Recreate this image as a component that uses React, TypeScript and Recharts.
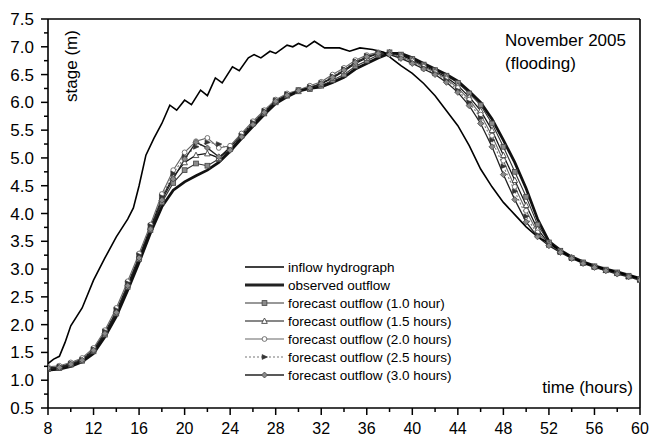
import { LineChart, Line, XAxis, YAxis, ReferenceLine } from 'recharts'

// time axis (hours) shared by observed and forecast series
const hours = [
  8, 9, 10, 11, 12, 13, 14, 15, 16, 17,
  18, 19, 20, 21, 22, 23, 24, 25, 26, 27,
  28, 29, 30, 31, 32, 33, 34, 35, 36, 37,
  38, 39, 40, 41, 42, 43, 44, 45, 46, 47,
  48, 49, 50, 51, 52, 53, 54, 55, 56, 57,
  58, 59, 60,
]

// inflow hydrograph has its own, finer time steps (the zigzag)
const inflowTime = [
  8, 8.5, 9, 9.5, 10, 11, 12, 13, 14, 15,
  15.5, 16, 16.6, 17.3, 18, 18.7, 19.3, 20, 20.6, 21.4,
  22, 22.7, 23.3, 24.2, 24.8, 25.6, 26.1, 26.7, 27.5, 28,
  29, 29.5, 30, 30.7, 31.4, 32.3, 33.6, 34.5, 35.4, 36.5,
  37.5, 38, 39, 40, 41, 42, 43, 44, 45, 46,
  47, 48, 49, 50, 51, 52, 53, 54, 55, 56,
  57, 58, 59, 60,
]
const inflowStage = [
  1.3, 1.38, 1.43, 1.68, 1.98, 2.3, 2.8, 3.2, 3.58, 3.9,
  4.1, 4.5, 5.05, 5.35, 5.62, 5.95, 5.86, 6.04, 5.96, 6.22,
  6.12, 6.44, 6.35, 6.64, 6.57, 6.8, 6.86, 6.8, 6.92, 6.88,
  7.03, 7.0, 7.06, 7.0, 7.1, 6.98, 6.98, 6.92, 6.98, 6.95,
  6.9, 6.82, 6.66, 6.52, 6.34, 6.12, 5.85, 5.58, 5.22, 4.8,
  4.48, 4.2, 3.98, 3.76, 3.58, 3.47, 3.33, 3.21, 3.12, 3.05,
  3.0, 2.94, 2.89, 2.83,
]

const observed = [
  1.18, 1.2, 1.25, 1.33, 1.48, 1.78, 2.15, 2.62, 3.12, 3.65,
  4.12, 4.42, 4.57, 4.68, 4.78, 4.92, 5.12, 5.35, 5.57, 5.78,
  5.98, 6.1, 6.2, 6.25, 6.28, 6.36, 6.45, 6.6, 6.7, 6.8,
  6.88, 6.88, 6.8, 6.7, 6.6, 6.5, 6.38, 6.2, 6.0, 5.7,
  5.32, 4.92, 4.45, 3.9, 3.5, 3.34, 3.22, 3.13, 3.06, 3.0,
  2.95, 2.89, 2.83,
]
const fc10 = [
  1.2, 1.22, 1.28, 1.35, 1.52, 1.82, 2.2, 2.68, 3.18, 3.7,
  4.2, 4.55, 4.78, 4.9, 4.86, 4.98, 5.16, 5.4, 5.62, 5.8,
  6.0, 6.12, 6.22, 6.24, 6.3, 6.4, 6.5, 6.65, 6.75, 6.85,
  6.9, 6.86, 6.78, 6.68, 6.58, 6.48, 6.35, 6.16, 5.95, 5.62,
  5.2, 4.75, 4.3, 3.8, 3.48, 3.33, 3.2, 3.12, 3.05, 2.99,
  2.94, 2.88, 2.82,
]
const fc15 = [
  1.22, 1.24, 1.3, 1.38, 1.55, 1.86, 2.24, 2.72, 3.22, 3.75,
  4.28, 4.66, 4.92, 5.05, 5.08, 5.0, 5.2, 5.42, 5.63, 5.84,
  6.03, 6.14, 6.2, 6.27, 6.33, 6.44, 6.56, 6.7, 6.8, 6.88,
  6.9, 6.85, 6.76, 6.66, 6.56, 6.45, 6.3, 6.1, 5.85, 5.5,
  5.05, 4.6, 4.15, 3.72, 3.46, 3.32, 3.21, 3.11, 3.04, 2.98,
  2.93, 2.87, 2.81,
]
const fc20 = [
  1.24, 1.26, 1.32, 1.4, 1.58, 1.9, 2.3, 2.78, 3.28, 3.8,
  4.35, 4.78, 5.1, 5.3, 5.36, 5.18, 5.22, 5.44, 5.66, 5.86,
  6.05, 6.16, 6.22, 6.3, 6.37, 6.5, 6.62, 6.76, 6.85, 6.9,
  6.88, 6.82, 6.74, 6.64, 6.54, 6.42, 6.26, 6.05, 5.78, 5.4,
  4.95, 4.48, 4.05, 3.66, 3.44, 3.31, 3.2, 3.11, 3.04, 2.98,
  2.92, 2.87, 2.81,
]
const fc25 = [
  1.2, 1.25, 1.3, 1.37, 1.56, 1.88, 2.27, 2.75, 3.25, 3.78,
  4.3, 4.72, 5.02, 5.2, 5.28, 5.25, 5.15, 5.4, 5.64, 5.85,
  6.04, 6.15, 6.2, 6.28, 6.35, 6.47, 6.6, 6.74, 6.84, 6.9,
  6.87, 6.8, 6.72, 6.62, 6.52, 6.4, 6.22, 6.0, 5.72, 5.32,
  4.85, 4.4, 3.95, 3.62, 3.43, 3.3, 3.2, 3.11, 3.04, 2.98,
  2.92, 2.86, 2.8,
]
const fc30 = [
  1.22, 1.23, 1.29, 1.36, 1.54, 1.84, 2.22, 2.7, 3.2, 3.72,
  4.24, 4.62, 4.98, 5.28, 5.18, 5.02, 5.14, 5.38, 5.6, 5.82,
  6.02, 6.13, 6.21, 6.26, 6.34, 6.45, 6.58, 6.72, 6.82, 6.88,
  6.86, 6.79, 6.7, 6.6, 6.5, 6.36, 6.18, 5.94, 5.62, 5.2,
  4.7, 4.25, 3.85, 3.58, 3.42, 3.3, 3.19, 3.1, 3.03, 2.97,
  2.91, 2.86, 2.8,
]

const xTicks = [8, 10, 12, 14, 16, 18, 20, 22, 24, 26, 28, 30, 32, 34, 36, 38, 40, 42, 44, 46, 48, 50, 52, 54, 56, 58, 60]
const yTicks = [0.5, 0.75, 1, 1.25, 1.5, 1.75, 2, 2.25, 2.5, 2.75, 3, 3.25, 3.5, 3.75, 4, 4.25, 4.5, 4.75, 5, 5.25, 5.5, 5.75, 6, 6.25, 6.5, 6.75, 7, 7.25, 7.5]

const FONT = '"Liberation Sans", Arial, sans-serif'

const toRows = (ts: number[], vs: number[]) => ts.map((t, i) => ({ t, v: vs[i] }))

type MarkerKind = 'square' | 'triangle' | 'circle' | 'arrow' | 'diamond'

const Marker = ({ kind, cx, cy }: { kind: MarkerKind; cx: number; cy: number }) => {
  const s = 2.4
  if (kind === 'square')
    return <rect x={cx - s} y={cy - s} width={s * 2} height={s * 2} fill="#8a8a8a" stroke="#444" strokeWidth={0.8} />
  if (kind === 'triangle')
    return (
      <polygon
        points={`${cx},${cy - s - 0.6} ${cx - s - 0.4},${cy + s} ${cx + s + 0.4},${cy + s}`}
        fill="#fff"
        stroke="#444"
        strokeWidth={0.9}
      />
    )
  if (kind === 'circle') return <circle cx={cx} cy={cy} r={s} fill="#fff" stroke="#666" strokeWidth={0.9} />
  if (kind === 'arrow')
    return (
      <polygon
        points={`${cx + s + 0.6},${cy} ${cx - s},${cy - s} ${cx - s},${cy + s}`}
        fill="#333"
        stroke="#333"
        strokeWidth={0.6}
      />
    )
  return (
    <polygon
      points={`${cx},${cy - s - 0.6} ${cx + s + 0.6},${cy} ${cx},${cy + s + 0.6} ${cx - s - 0.6},${cy}`}
      fill="#8a8a8a"
      stroke="#444"
      strokeWidth={0.8}
    />
  )
}

const dotFor = (kind: MarkerKind) => (props: any) => {
  const { cx, cy, index } = props
  if (cx == null || cy == null) return <g key={index} />
  return <Marker key={index} kind={kind} cx={cx} cy={cy} />
}

const forecasts = [
  { name: 'forecast outflow (1.0 hour)', values: fc10, stroke: '#333', width: 1.1, dash: undefined, kind: 'square' as MarkerKind },
  { name: 'forecast outflow (1.5 hours)', values: fc15, stroke: '#111', width: 1.2, dash: undefined, kind: 'triangle' as MarkerKind },
  { name: 'forecast outflow (2.0 hours)', values: fc20, stroke: '#666', width: 1.1, dash: undefined, kind: 'circle' as MarkerKind },
  { name: 'forecast outflow (2.5 hours)', values: fc25, stroke: '#777', width: 1.1, dash: '2 2', kind: 'arrow' as MarkerKind },
  { name: 'forecast outflow (3.0 hours)', values: fc30, stroke: '#222', width: 1.3, dash: undefined, kind: 'diamond' as MarkerKind },
]

const XTick = (props: any) => {
  const { x, y, payload } = props
  const v = payload.value
  const major = v % 4 === 0
  return (
    <g>
      <line x1={x} x2={x} y1={y} y2={y + (major ? 7 : 4)} stroke="#000" strokeWidth={1.5} />
      {major && (
        <text x={x} y={y + 26} textAnchor="middle" fontSize={16} fontFamily={FONT} fill="#000">
          {v}
        </text>
      )}
    </g>
  )
}

const YTick = (props: any) => {
  const { x, y, payload } = props
  const v = payload.value
  const major = Math.abs(v * 2 - Math.round(v * 2)) < 1e-6
  return (
    <g>
      <line x1={x} x2={x - (major ? 7 : 4)} y1={y} y2={y} stroke="#000" strokeWidth={1.5} />
      {major && (
        <text x={x - 14} y={y + 6} textAnchor="end" fontSize={17} fontFamily={FONT} fill="#000">
          {v.toFixed(1)}
        </text>
      )}
    </g>
  )
}

const legendRows = [
  { name: 'inflow hydrograph', stroke: '#000', width: 1.6, dash: undefined as string | undefined, kind: null as MarkerKind | null },
  { name: 'observed outflow', stroke: '#222', width: 2.8, dash: undefined, kind: null },
  ...forecasts.map((f) => ({ name: f.name, stroke: f.stroke, width: f.width, dash: f.dash, kind: f.kind as MarkerKind | null })),
]

export default function App() {
  return (
    <div style={{ position: 'absolute', left: 0, top: 0, width: 651, height: 440, background: '#fff' }}>
      <LineChart width={651} height={440} margin={{ top: 19, right: 11, bottom: 0, left: 0 }}>
        <XAxis
          dataKey="t"
          type="number"
          domain={[8, 60]}
          ticks={xTicks}
          interval={0}
          allowDataOverflow
          height={32}
          tickSize={0}
          tickMargin={0}
          tickLine={false}
          axisLine={{ stroke: '#000', strokeWidth: 1.6 }}
          tick={<XTick />}
        />
        <YAxis
          type="number"
          domain={[0.5, 7.5]}
          ticks={yTicks}
          interval={0}
          allowDataOverflow
          width={48}
          tickSize={0}
          tickMargin={0}
          tickLine={false}
          axisLine={{ stroke: '#000', strokeWidth: 1.6 }}
          tick={<YTick />}
        />
        <ReferenceLine y={7.5} stroke="#000" strokeWidth={1.6} />
        <ReferenceLine x={60} stroke="#000" strokeWidth={1.6} />
        {forecasts.map((f) => (
          <Line
            key={f.name}
            data={toRows(hours, f.values)}
            dataKey="v"
            type="linear"
            stroke={f.stroke}
            strokeWidth={f.width}
            strokeDasharray={f.dash}
            dot={dotFor(f.kind)}
            isAnimationActive={false}
          />
        ))}
        <Line
          data={toRows(hours, observed)}
          dataKey="v"
          type="linear"
          stroke="#111"
          strokeWidth={2.8}
          dot={false}
          isAnimationActive={false}
        />
        <Line
          data={toRows(inflowTime, inflowStage)}
          dataKey="v"
          type="linear"
          stroke="#000"
          strokeWidth={1.6}
          dot={false}
          isAnimationActive={false}
        />
      </LineChart>
      <svg
        width={651}
        height={440}
        style={{ position: 'absolute', left: 0, top: 0, pointerEvents: 'none' }}
        fontFamily={FONT}
      >
        <text x={71} y={66} transform="rotate(-90 71 66)" textAnchor="middle" dominantBaseline="central" fontSize={17}>
          stage (m)
        </text>
        <text x={633} y={393} textAnchor="end" fontSize={17}>
          time (hours)
        </text>
        <text x={505} y={46} fontSize={17}>
          November 2005
        </text>
        <text x={505} y={69} fontSize={17}>
          (flooding)
        </text>
        {legendRows.map((r, i) => {
          const y = 267 + i * 18
          return (
            <g key={r.name}>
              <line x1={245} x2={284} y1={y} y2={y} stroke={r.stroke} strokeWidth={r.width} strokeDasharray={r.dash} />
              {r.kind && <Marker kind={r.kind} cx={264.5} cy={y} />}
              <text x={288} y={y + 5} fontSize={13.5}>
                {r.name}
              </text>
            </g>
          )
        })}
      </svg>
    </div>
  )
}
